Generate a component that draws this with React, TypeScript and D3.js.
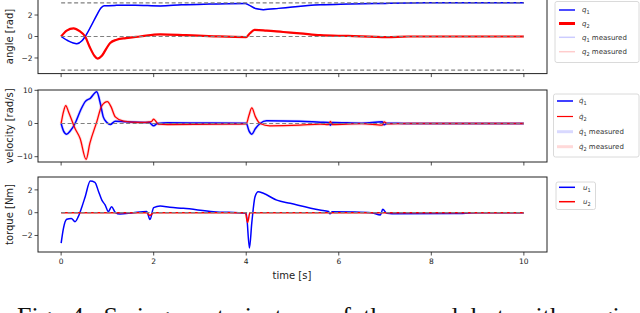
import React from 'react';
import * as d3 from 'd3';

type Pt = [number, number];

// joint angles [rad] (t, value)
const q1: Pt[] = [[0, 0], [0.15, -0.4], [0.34, -0.67], [0.45, -0.4], [0.52, 0], [0.65, 1.0], [0.77, 2.0], [0.86, 2.65], [0.93, 2.86], [1.2, 2.9], [1.6, 2.92], [2.14, 2.85], [2.6, 2.95], [3.2, 3.02], [3.98, 3.08], [4.05, 2.95], [4.2, 2.6], [4.37, 2.5], [4.7, 2.62], [5.0, 2.75], [5.6, 2.95], [6.2, 3.02], [7.0, 3.08], [7.5, 3.12], [8.5, 3.14], [10, 3.14]];
const q2: Pt[] = [[0, 0], [0.12, 0.55], [0.27, 0.76], [0.4, 0.5], [0.52, 0], [0.62, -1.0], [0.72, -1.8], [0.79, -2.06], [0.88, -1.8], [0.98, -1.1], [1.06, -0.6], [1.2, -0.3], [1.4, -0.15], [1.7, 0], [2.14, 0.2], [2.7, 0.12], [3.3, 0.02], [4.0, -0.05], [4.08, 0.3], [4.18, 0.62], [4.44, 0.55], [4.8, 0.42], [5.16, 0.3], [5.6, 0.12], [6.2, 0.05], [7.04, -0.06], [7.5, 0], [10, 0]];

// joint velocities [rad/s]
const dq1: Pt[] = [[0, 0], [0.05, -2.2], [0.12, -3.2], [0.2, -2.2], [0.3, 0], [0.42, 4.0], [0.52, 6.6], [0.63, 7.6], [0.77, 9.6], [0.84, 6.5], [0.91, 2], [0.99, 0.3], [1.06, -0.3], [1.17, 0.7], [1.4, 0.5], [1.9, 0.3], [2.0, -0.7], [2.08, 0], [2.3, 0.2], [3.0, 0.15], [4.0, 0.05], [4.06, -2.2], [4.12, -3.2], [4.2, -1.5], [4.3, 0], [4.44, 0.8], [5.16, 0.7], [5.6, 0.4], [5.78, 0.3], [5.82, -0.5], [5.86, 0.3], [6.5, 0.1], [6.94, 0.5], [6.98, -0.4], [7.05, 0.1], [7.5, 0], [10, 0]];
const dq2: Pt[] = [[0, 0], [0.05, 3.5], [0.1, 5.4], [0.16, 3.5], [0.3, -1.5], [0.41, -4.5], [0.54, -10.8], [0.62, -6], [0.77, 0.5], [0.88, 5.4], [1.0, 6.6], [1.08, 5], [1.17, 2], [1.35, 0.7], [1.7, 0.3], [1.95, 0.6], [2.0, 1.3], [2.05, 0.6], [2.1, -0.2], [2.3, -0.3], [3.5, -0.2], [4.0, -0.1], [4.06, 2.5], [4.12, 4.7], [4.2, 2], [4.3, 0], [4.51, -0.7], [5.16, -0.5], [5.6, -0.2], [5.78, -0.3], [5.82, 0.6], [5.86, -0.3], [6.5, -0.05], [6.94, -0.5], [6.98, 0.5], [7.05, -0.1], [7.5, 0], [10, 0]];

// torques [Nm]
const u1: Pt[] = [[0, -2.68], [0.05, -1.37], [0.12, -0.58], [0.22, -0.5], [0.3, -0.79], [0.37, -0.35], [0.45, 0.53], [0.52, 1.4], [0.63, 2.78], [0.73, 2.66], [0.81, 1.84], [0.88, 1.1], [0.95, 0.68], [1.02, 0.1], [1.09, 0.53], [1.17, 0.03], [1.27, -0.12], [1.56, 0], [1.85, 0.1], [1.92, -0.6], [2.0, 0.44], [2.14, 0.58], [2.35, 0.47], [2.64, 0.38], [3.29, 0.09], [4.0, -0.06], [4.07, -3.1], [4.12, -0.9], [4.19, 1.4], [4.26, 1.84], [4.37, 1.7], [4.66, 1.1], [4.95, 0.82], [5.59, 0.23], [5.78, 0.1], [5.81, -0.1], [5.86, 0.08], [6.31, 0.06], [6.7, 0], [6.9, -0.2], [6.95, 0.3], [7.04, -0.06], [7.15, -0.09], [8.5, -0.08], [9.0, 0], [10, 0]];
const u2: Pt[] = [[0, 0], [1.85, 0], [1.92, -0.25], [2.0, 0], [3.98, 0], [4.03, -0.85], [4.08, 0], [10, 0]];

const xTicks = [0, 2, 4, 6, 8, 10];
const angleTicks = [-2, 0, 2];
const velTicks = [-10, 0, 10];
const torqueTicks = [-2, 0, 2];
const angleRefs = [-Math.PI, 0, Math.PI];

const FONT = '"DejaVu Sans", sans-serif';
const BLUE = '#0000ff';
const RED = '#ff0000';

const x = d3.scaleLinear().domain([-0.5, 10.5]).range([38, 547]);

interface Series { data: Pt[]; color: string; width: number; opacity?: number }
interface Entry { label: React.ReactNode; color: string; width: number; opacity?: number }

const sub = (base: string, idx: string, rest = '') => (
  <>
    <tspan fontStyle="italic">{base}</tspan>
    <tspan fontSize={5} dy={1.8}>{idx}</tspan>
    {rest ? <tspan dy={-1.8}>{rest}</tspan> : null}
  </>
);

const Panel: React.FC<{
  top: number; bottom: number; domain: [number, number]; ticks: number[];
  refs: number[]; series: Series[]; ylabel: string; showX: boolean;
}> = ({ top, bottom, domain, ticks, refs, series, ylabel, showX }) => {
  const y = d3.scaleLinear().domain(domain).range([bottom, top]);
  const line = d3.line<Pt>().x(d => x(d[0])).y(d => y(d[1])).curve(d3.curveMonotoneX);
  const [x0, x1] = x.range();
  return (
    <g>
      {series.map((s, i) => (
        <path key={i} d={line(s.data) || ''} fill="none" stroke={s.color}
          strokeWidth={s.width} strokeOpacity={s.opacity ?? 1} strokeLinejoin="round" />
      ))}
      {refs.map((r, i) => (
        <line key={i} x1={x(0)} x2={x(10)} y1={y(r)} y2={y(r)} stroke="#808080"
          strokeWidth={1.2} strokeDasharray="4,2.5" />
      ))}
      <rect x={x0} y={top} width={x1 - x0} height={bottom - top} fill="none" stroke="#222" strokeWidth={1} />
      {ticks.map(t => (
        <g key={t}>
          <line x1={x0 - 3.5} x2={x0} y1={y(t)} y2={y(t)} stroke="#222" strokeWidth={0.8} />
          <text x={x0 - 5.5} y={y(t)} dy="0.35em" textAnchor="end" fontSize={7.5} fontFamily={FONT} fill="#222">
            {t < 0 ? '\u2212' + Math.abs(t) : t}
          </text>
        </g>
      ))}
      {xTicks.map(t => (
        <g key={t}>
          <line x1={x(t)} x2={x(t)} y1={bottom} y2={bottom + 3.5} stroke="#222" strokeWidth={0.8} />
          {showX && (
            <text x={x(t)} y={bottom + 11.5} textAnchor="middle" fontSize={7.5} fontFamily={FONT} fill="#222">{t}</text>
          )}
        </g>
      ))}
      <text transform={`translate(13,${(top + bottom) / 2}) rotate(-90)`} textAnchor="middle"
        fontSize={10} fontFamily={FONT} fill="#222">{ylabel}</text>
    </g>
  );
};

const Legend: React.FC<{ x0: number; y0: number; w: number; h: number; rows: number[]; entries: Entry[]; lx: number; tx: number }> =
  ({ x0, y0, w, h, rows, entries, lx, tx }) => (
    <g>
      <rect x={x0} y={y0} width={w} height={h} rx={2} fill="#fff" fillOpacity={0.8} stroke="#d0d0d0" strokeWidth={0.8} />
      {entries.map((e, i) => (
        <g key={i}>
          <line x1={lx} x2={lx + 16} y1={rows[i]} y2={rows[i]} stroke={e.color} strokeWidth={e.width} strokeOpacity={e.opacity ?? 1} />
          <text x={tx} y={rows[i]} dy="0.35em" fontSize={7} fontFamily={FONT} fill="#333">{e.label}</text>
        </g>
      ))}
    </g>
  );

export default function App() {
  return (
    <div style={{ position: 'fixed', left: 0, top: 0 }}>
      <svg width={640} height={313} style={{ display: 'block', background: '#fff' }}>
        <Panel top={-0.6} bottom={73.6} domain={[-3.456, 3.456]} ticks={angleTicks} refs={angleRefs}
          ylabel="angle [rad]" showX={false}
          series={[
            { data: q1, color: BLUE, width: 1.5 },
            { data: q2, color: RED, width: 2.2 },
            { data: q1, color: BLUE, width: 1.5, opacity: 0.2 },
            { data: q2, color: RED, width: 1.5, opacity: 0.2 },
          ]} />
        <Panel top={90} bottom={162} domain={[-11.6, 10.1]} ticks={velTicks} refs={[0]}
          ylabel="velocity [rad/s]" showX={false}
          series={[
            { data: dq1, color: BLUE, width: 1.5 },
            { data: dq2, color: RED, width: 1.3 },
            { data: dq1, color: BLUE, width: 3, opacity: 0.15 },
            { data: dq2, color: RED, width: 3, opacity: 0.15 },
          ]} />
        <Panel top={177} bottom={252} domain={[-3.45, 3.13]} ticks={torqueTicks} refs={[0]}
          ylabel="torque [Nm]" showX={true}
          series={[
            { data: u1, color: BLUE, width: 1.5 },
            { data: u2, color: RED, width: 1.5 },
          ]} />
        <text x={292} y={279} textAnchor="middle" fontSize={10} fontFamily={FONT} fill="#222">time [s]</text>

        <Legend x0={555} y0={1.5} w={84} h={61} rows={[10, 23.5, 37.3, 51.7]} lx={559} tx={582}
          entries={[
            { label: sub('q', '1'), color: BLUE, width: 2, opacity: 0.7 },
            { label: sub('q', '2'), color: RED, width: 3 },
            { label: sub('q', '1', ' measured'), color: BLUE, width: 1.5, opacity: 0.2 },
            { label: sub('q', '2', ' measured'), color: RED, width: 1.5, opacity: 0.2 },
          ]} />
        <Legend x0={553.5} y0={94} w={85.5} h={63} rows={[101, 116.5, 131.7, 146.7]} lx={557} tx={579}
          entries={[
            { label: sub('q\u0307', '1'), color: BLUE, width: 1.5 },
            { label: sub('q\u0307', '2'), color: RED, width: 1.2 },
            { label: sub('q\u0307', '1', ' measured'), color: BLUE, width: 3, opacity: 0.15 },
            { label: sub('q\u0307', '2', ' measured'), color: RED, width: 3, opacity: 0.15 },
          ]} />
        <Legend x0={556} y0={182} w={39.5} h={27.5} rows={[187.3, 201.7]} lx={559} tx={583}
          entries={[
            { label: sub('u', '1'), color: BLUE, width: 1.5 },
            { label: sub('u', '2'), color: RED, width: 1.5 },
          ]} />

        <text x={17} y={325} fontSize={26} fontFamily='"Liberation Serif", serif' wordSpacing={6} fill="#111">
          Fig. 4: Swing-up trajectory of the pendubot with a given
        </text>
      </svg>
    </div>
  );
}
